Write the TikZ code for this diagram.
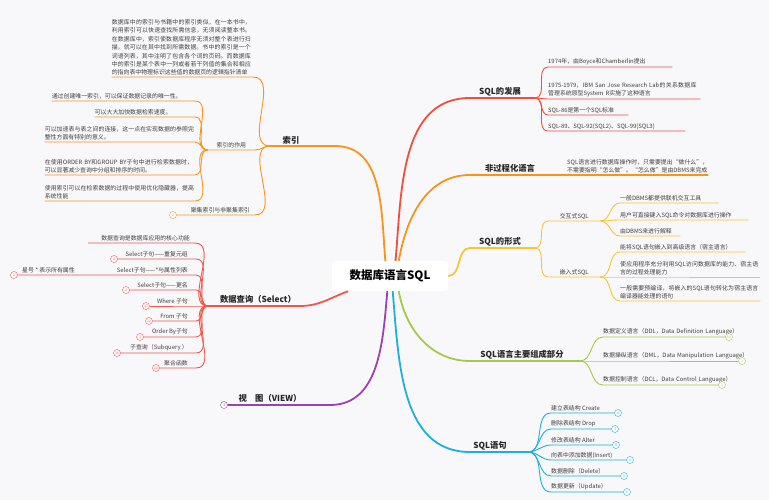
\documentclass[tikz,border=0pt]{standalone}
\usepackage{fontspec}
\setmainfont{Noto Sans CJK SC}
\XeTeXlinebreaklocale "zh"
\XeTeXlinebreakskip = 0pt plus 1pt
\hyphenpenalty=10000
\definecolor{bg}{HTML}{F8F8FA}
\definecolor{cRed}{HTML}{F04E3E}
\definecolor{cOr}{HTML}{F7941D}
\definecolor{cYel}{HTML}{F8C630}
\definecolor{cGrn}{HTML}{A6C94A}
\definecolor{cBlu}{HTML}{1CB0DD}
\definecolor{cPur}{HTML}{9B41B0}
\definecolor{cSel}{HTML}{F2564B}
\tikzset{
  leaf/.style={font=\fontsize{5.9}{8.4}\selectfont, text=black!75, inner xsep=0pt, inner ysep=1.5pt},
  topic/.style={font=\fontsize{8.3}{9}\selectfont\bfseries, text=black!85, inner sep=2pt},
  num/.style={circle, draw, fill=white, inner sep=0pt, minimum size=7pt, font=\fontsize{3.5}{4}\selectfont},
  main/.style={line width=1.8pt},
  br/.style={line width=0.9pt},
}
\begin{document}
\begin{tikzpicture}[x=1pt,y=-1pt]
  \fill[bg] (0,0) rectangle (769,500);
  \useasboundingbox (0,0) rectangle (769,500);
  \node[fill=white, rounded corners=3pt, minimum width=116pt, minimum height=30pt,
        font=\fontsize{11.5}{12}\selectfont\bfseries] (root) at (390,276) {数据库语言SQL};

  % SQL的发展
  \coordinate (fa) at (470,98);
  \coordinate (fz) at (535,98);
  \node[topic, anchor=south] (fa-t) at (500,98) {SQL的发展};
  \draw[main,cRed] (root.70) to[out=85,in=180] (fa) -- (fz);
  \foreach \y/\xe/\t [count=\i] in {67/672/{1974年，由Boyce和Chamberlin提出},
      99/700/{1975-1979，IBM San Jose Research Lab的关系数据库管理系统原型System R实施了这种语言},
      115/628/{SQL-86是第一个SQL标准}, 131/685/{SQL-89、SQL-92(SQL2)、SQL-99(SQL3)}}{
    \coordinate (f\i) at (548,\y);
    \pgfmathsetmacro\w{\xe-548}
    \node[leaf, anchor=south west, text width=\w pt, align=left] (f\i-t) at (f\i) {\t};
    \draw[br,cRed] (fz) to[out=0,in=180] (f\i) -- (f\i-t.south east);
  }

  % 非过程化语言
  \coordinate (na) at (470,175);
  \node[topic, anchor=south] (na-t) at (510,175) {非过程化语言};
  \node[leaf, anchor=south west, text width=141pt, align=left] (n1-t) at (567,175)
    {SQL语言进行数据库操作时，只需要提出“做什么”，不需要指明“怎么做”。“怎么做”是由DBMS来完成};
  \draw[main,cOr] (root.60) to[out=80,in=180] (na) -- (n1-t.south east);

  % SQL的形式
  \coordinate (xa) at (470,248);
  \coordinate (xz) at (535,248);
  \node[topic, anchor=south] (xa-t) at (500,248) {SQL的形式};
  \draw[main,cYel] (root.east) to[out=0,in=180] (xa) -- (xz);
  \node[leaf, anchor=south west, minimum width=52pt] (x1-t) at (548,221) {交互式SQL};
  \node[leaf, anchor=south west, minimum width=52pt] (x2-t) at (548,277) {嵌入式SQL};
  \draw[br,cYel] (xz) to[out=0,in=180] (x1-t.south west) -- (x1-t.south east);
  \draw[br,cYel] (xz) to[out=0,in=180] (x2-t.south west) -- (x2-t.south east);
  \foreach \y/\xe/\t [count=\i] in {203/718/{一般DBMS都提供联机交互工具},
      220/748/{用户可直接键入SQL命令对数据库进行操作}, 236/680/{由DBMS来进行解释}}{
    \pgfmathsetmacro\w{\xe-620}
    \node[leaf, anchor=south west, text width=\w pt, align=left] (xa\i-t) at (620,\y) {\t};
    \draw[br,cYel] (x1-t.south east) to[out=0,in=180] (xa\i-t.south west) -- (xa\i-t.south east);
  }
  \foreach \y/\xe/\t [count=\i] in {252/745/{能将SQL语句嵌入到高级语言（宿主语言）},
      277/760/{使应用程序充分利用SQL访问数据库的能力、宿主语言的过程处理能力},
      301/760/{一般需要预编译，将嵌入的SQL语句转化为宿主语言编译器能处理的语句}}{
    \pgfmathsetmacro\w{\xe-620}
    \node[leaf, anchor=south west, text width=\w pt, align=left] (xb\i-t) at (620,\y) {\t};
    \draw[br,cYel] (x2-t.south east) to[out=0,in=180] (xb\i-t.south west) -- (xb\i-t.south east);
  }

  % SQL语言主要组成部分
  \coordinate (za) at (470,361);
  \coordinate (zz) at (580,361);
  \node[topic, anchor=south] (za-t) at (522,361) {SQL语言主要组成部分};
  \draw[main,cGrn] (root.-60) to[out=-80,in=180] (za) -- (zz);
  \foreach \y/\xe/\c/\t [count=\i] in {337/725/10/{数据定义语言（DDL，Data Definition Language）},
      361/738/1/{数据操纵语言（DML，Data Manipulation Language）},
      385/718/1/{数据控制语言（DCL，Data Control Language）}}{
    \node[leaf, anchor=south west, text width=146pt, align=left] (z\i-t) at (603,\y) {\t};
    \node[num, draw=cGrn, text=cGrn] (z\i-c) at (\xe+4,\y) {\c};
    \draw[br,cGrn] (zz) to[out=0,in=180] (z\i-t.south west) -- (z\i-c);
  }

  % SQL语句
  \coordinate (ya) at (470,452);
  \coordinate (yz) at (528,452);
  \node[topic, anchor=south] (ya-t) at (490,452) {SQL语句};
  \draw[main,cBlu] (root.-80) to[out=-85,in=180] (ya) -- (yz);
  \foreach \y/\xe/\c/\t [count=\i] in {413/614/6/{建立表结构 Create}, 429/611/3/{删除表结构 Drop},
      445/612/8/{修改表结构 Alter}, 460/626/4/{向表中添加数据(Insert)},
      476/620/5/{数据删除（Delete）}, 492/623/5/{数据更新（Update）}}{
    \node[leaf, anchor=south west] (y\i-t) at (551,\y) {\t};
    \node[num, draw=cBlu, text=cBlu] (y\i-c) at (\xe+4,\y) {\c};
    \draw[br,cBlu] (yz) to[out=0,in=180] (551,\y) -- (y\i-c);
  }

  % 索引
  \coordinate (sa) at (335,146);
  \coordinate (sz) at (270,146);
  \node[topic, anchor=south] (sa-t) at (291,146) {索引};
  \draw[main,cOr] (root.107) to[out=95,in=0] (sa) -- (sz);
  \node[leaf, anchor=south east, text width=141pt, align=left] (s0-t) at (253,77)
    {数据库中的索引与书籍中的索引类似，在一本书中，利用索引可以快速查找所需信息，无须阅读整本书。在数据库中，索引使数据库程序无须对整个表进行扫描，就可以在其中找到所需数据。书中的索引是一个词语列表，其中注明了包含各个词的页码。而数据库中的索引是某个表中一列或者若干列值的集合和相应的指向表中物理标识这些值的数据页的逻辑指针清单};
  \draw[br,cOr] (sz) to[out=180,in=0] (s0-t.south east) -- (s0-t.south west);
  \node[leaf, anchor=south east, minimum width=47pt] (s1-t) at (255,150) {索引的作用};
  \draw[br,cOr] (sz) to[out=180,in=0] (s1-t.south east) -- (s1-t.south west);
  \foreach \y/\xs/\t [count=\i] in {101/52/{通过创建唯一索引，可以保证数据记录的唯一性。},
      117/95/{可以大大加快数据检索速度。},
      142/45/{可以加速表与表之间的连接，这一点在实现数据的参照完整性方面有特别的意义。},
      175/45/{在使用ORDER BY和GROUP BY子句中进行检索数据时，可以显著减少查询中分组和排序的时间。},
      201/45/{使用索引可以在检索数据的过程中使用优化隐藏器，提高系统性能}}{
    \pgfmathsetmacro\w{195-\xs}
    \node[leaf, anchor=south east, text width=\w pt, align=left] (r\i-t) at (195,\y) {\t};
    \draw[br,cOr] (s1-t.south west) to[out=180,in=0] (r\i-t.south east) -- (r\i-t.south west);
  }
  \node[leaf, anchor=south east] (s2-t) at (250,215) {聚集索引与非聚集索引};
  \node[num, draw=cOr, text=cOr] (s2-c) at (173,215) {2};
  \draw[br,cOr] (sz) to[out=180,in=0] (255,215) -- (s2-c);

  % 数据查询（Select）
  \coordinate (qa) at (300,306);
  \coordinate (qz) at (208,306);
  \node[topic, anchor=south] (qa-t) at (258,306) {数据查询（Select）};
  \draw[main,cSel] (root.-160) to[out=200,in=0] (qa) -- (qz);
  \node[leaf, anchor=south east] (q0-t) at (190,243) {数据查询是数据库应用的核心功能};
  \draw[br,cSel] (qz) to[out=180,in=0] (195,243) -- (88,243);
  \foreach \y/\xs/\c/\t [count=\i] in {259/110/4/{Select子句——重复元组}, 275/10/2/{Select子句——*与属性列表},
      290/122/2/{Select子句——更名}, 306/142/17/{Where 子句}, 321/145/12/{From 子句},
      337/136/3/{Order By子句}, 353/113/16/{子查询（Subquery ）}, 368/152/22/{聚合函数}}{
    \node[leaf, anchor=south east] (q\i-t) at (188,\y) {\t};
    \node[num, draw=cSel, text=cSel] (q\i-c) at (\xs+4,\y) {\c};
    \draw[br,cSel] (qz) to[out=180,in=0] (196,\y) -- (q\i-c);
  }
  \node[leaf, anchor=south west] (q2a-t) at (22,275) {星号 * 表示所有属性};

  % 视图
  \coordinate (va) at (330,405);
  \node[topic, anchor=south] (va-t) at (270,405) {视\quad 图（VIEW）};
  \node[num, draw=cPur, text=cPur] (v-c) at (224,405) {3};
  \draw[main,cPur] (root.-100) to[out=-95,in=0] (va) -- (v-c);
\end{tikzpicture}
\end{document}
